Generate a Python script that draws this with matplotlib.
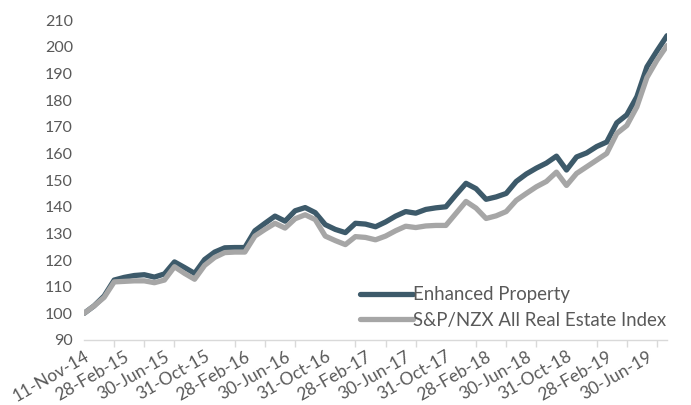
import matplotlib
matplotlib.use("Agg")
import matplotlib.pyplot as plt
from matplotlib.ticker import FixedLocator

plt.rcParams['font.family'] = ['Lato', 'DejaVu Sans']

dates = ["11-Nov-14"] + [
    f"{d}-{m}-{y}" for y in range(14, 20) for m, d in [
        ("Jan", 31), ("Feb", 28), ("Mar", 31), ("Apr", 30), ("May", 31), ("Jun", 30),
        ("Jul", 31), ("Aug", 31), ("Sep", 30), ("Oct", 31), ("Nov", 30), ("Dec", 31)]
][10:10 + 58]

enhanced = [100, 102.8, 106.5, 112.5, 113.5, 114.2, 114.5, 113.6, 114.8, 119.3,
            117.2, 115, 120.2, 123, 124.6, 124.7, 124.7, 131, 133.8, 136.5,
            134.6, 138.5, 139.7, 137.8, 133.3, 131.5, 130.3, 133.8, 133.5, 132.5,
            134.3, 136.5, 138.2, 137.6, 139, 139.6, 140, 144.5, 148.8, 146.8,
            142.8, 143.7, 145, 149.5, 152.3, 154.5, 156.4, 159, 153.8, 158.7,
            160.2, 162.6, 164.3, 171.5, 174.5, 181.3, 192.5, 198.5, 204.2]
index = [100, 102.8, 106, 111.8, 112, 112.2, 112.2, 111.5, 112.5, 117.5,
         115, 112.8, 118, 121, 122.8, 123, 123, 129, 131.5, 133.8,
         132, 135.5, 137, 135.2, 129, 127.3, 125.8, 128.8, 128.5, 127.6,
         129, 131, 132.7, 132.2, 132.8, 133, 133, 137.5, 142, 139.5,
         135.6, 136.6, 138.2, 142.4, 145, 147.5, 149.5, 153, 148, 152.5,
         155, 157.5, 160, 167.5, 170.5, 177.5, 188.5, 195, 200.5]

label_step = 4
tick_step = 3
yticks = list(range(90, 211, 10))

fig = plt.figure(figsize=(6.91, 4.05), dpi=100)
ax = fig.add_axes([0.1216, 0.1605, 0.8437, 0.7895])

x = list(range(len(dates)))
ax.plot(x, enhanced, color='#3D5A6A', lw=3.8, solid_capstyle='round',
        solid_joinstyle='round', label='Enhanced Property', zorder=2)
ax.plot(x, index, color='#A6A6A6', lw=3.8, solid_capstyle='round',
        solid_joinstyle='round', label='S&P/NZX All Real Estate Index', zorder=3)

ax.set_xlim(0, len(dates) - 1)
ax.set_ylim(90, 210)
ax.set_yticks(yticks)
ax.tick_params(axis='y', length=0, labelsize=11.5, labelcolor='#595959', pad=8)

lab_pos = x[::label_step]
ax.xaxis.set_major_locator(FixedLocator(lab_pos))
ax.set_xticklabels([dates[i] for i in lab_pos], rotation=30, ha='right',
                   rotation_mode='anchor')
ax.tick_params(axis='x', which='major', length=0, labelsize=12.5,
               labelcolor='#595959', pad=6)
ax.xaxis.set_minor_locator(FixedLocator(x[::tick_step]))
ax.tick_params(axis='x', which='minor', length=5, color='#D9D9D9', width=1)

for s in ['left', 'right', 'top']:
    ax.spines[s].set_visible(False)
ax.spines['bottom'].set_color('#D9D9D9')
ax.spines['bottom'].set_linewidth(1)

leg = ax.legend(loc='lower right', bbox_to_anchor=(1.012, 0.012), frameon=False,
                fontsize=13.4, labelcolor='#595959', handlelength=2.8,
                handletextpad=0.05, labelspacing=0.45, borderaxespad=0)

fig.savefig('out.png', dpi=100)
